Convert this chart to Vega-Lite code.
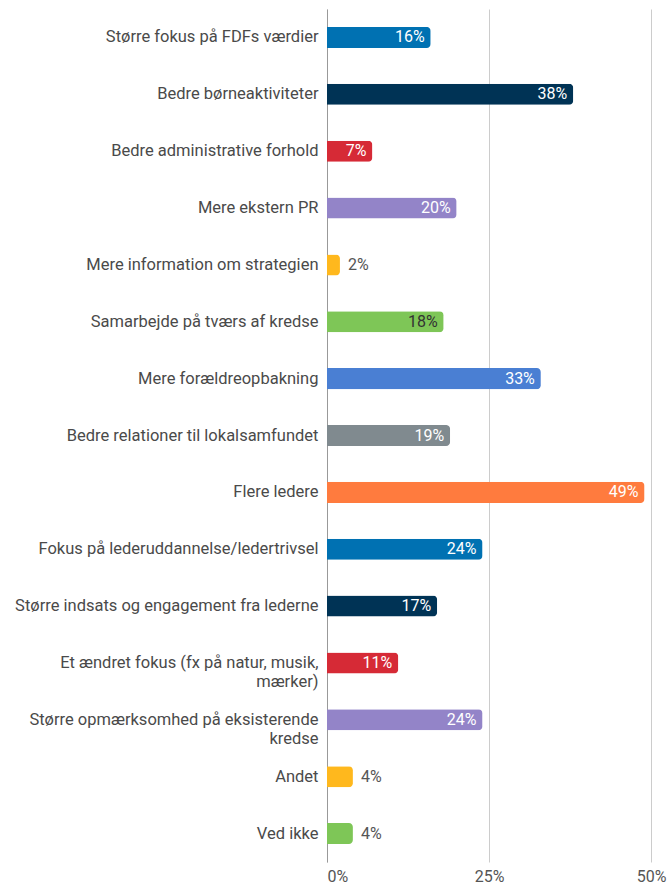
{
  "$schema": "https://vega.github.io/schema/vega-lite/v6.json",
  "autosize": {"type": "none"},
  "padding": {"left": 327, "top": 9, "right": 19, "bottom": 25},
  "width": 324,
  "height": 853,
  "background": "white",
  "config": {
    "font": "Roboto",
    "view": {"stroke": null}
  },
  "data": {
    "values": [
      {"label": "Større fokus på FDFs værdier", "value": 0.16},
      {"label": "Bedre børneaktiviteter", "value": 0.38},
      {"label": "Bedre administrative forhold", "value": 0.07},
      {"label": "Mere ekstern PR", "value": 0.20},
      {"label": "Mere information om strategien", "value": 0.02},
      {"label": "Samarbejde på tværs af kredse", "value": 0.18},
      {"label": "Mere forældreopbakning", "value": 0.33},
      {"label": "Bedre relationer til lokalsamfundet", "value": 0.19},
      {"label": "Flere ledere", "value": 0.49},
      {"label": "Fokus på lederuddannelse/ledertrivsel", "value": 0.24},
      {"label": "Større indsats og engagement fra lederne", "value": 0.17},
      {"label": "Et ændret fokus (fx på natur, musik,|mærker)", "value": 0.11},
      {"label": "Større opmærksomhed på eksisterende|kredse", "value": 0.24},
      {"label": "Andet", "value": 0.04},
      {"label": "Ved ikke", "value": 0.04}
    ]
  },
  "encoding": {
    "y": {
      "field": "label",
      "type": "nominal",
      "sort": null,
      "scale": {"paddingInner": 0.63, "paddingOuter": 0.315},
      "axis": {
        "title": null,
        "labelExpr": "split(datum.label, '|')",
        "labelFont": "Roboto",
        "labelFontSize": 16.5,
        "labelColor": "#4a4a4a",
        "labelPadding": 9,
        "labelLimit": 330,
        "labelLineHeight": 19,
        "ticks": false,
        "domain": true,
        "domainColor": "#999999",
        "domainWidth": 1
      }
    },
    "x": {
      "field": "value",
      "type": "quantitative",
      "scale": {"domain": [0, 0.5]},
      "axis": {
        "title": null,
        "values": [0, 0.25, 0.5],
        "format": ".0%",
        "labelFont": "Roboto",
        "labelFontSize": 16,
        "labelColor": "#555555",
        "labelPadding": 6,
        "labelFlush": false,
        "labelAlign": {"condition": {"test": "datum.value === 0", "value": "left"}, "value": "center"},
        "ticks": false,
        "domain": false,
        "grid": true,
        "gridColor": "#cccccc",
        "gridWidth": 1
      }
    }
  },
  "layer": [
    {
      "mark": {"type": "bar", "cornerRadiusEnd": 4},
      "encoding": {
        "color": {
          "field": "label",
          "type": "nominal",
          "legend": null,
          "scale": {
            "domain": [
              "Større fokus på FDFs værdier",
              "Bedre børneaktiviteter",
              "Bedre administrative forhold",
              "Mere ekstern PR",
              "Mere information om strategien",
              "Samarbejde på tværs af kredse",
              "Mere forældreopbakning",
              "Bedre relationer til lokalsamfundet",
              "Flere ledere",
              "Fokus på lederuddannelse/ledertrivsel",
              "Større indsats og engagement fra lederne",
              "Et ændret fokus (fx på natur, musik,|mærker)",
              "Større opmærksomhed på eksisterende|kredse",
              "Andet",
              "Ved ikke"
            ],
            "range": [
              "#0071b2", "#003355", "#d62a36", "#9384c8", "#ffb81d", "#7ec657",
              "#4a7fd3", "#808a8f", "#ff7b3e",
              "#0071b2", "#003355", "#d62a36", "#9384c8", "#ffb81d", "#7ec657"
            ]
          }
        }
      }
    },
    {
      "transform": [{"filter": "datum.value >= 0.05"}],
      "mark": {"type": "text", "align": "right", "dx": -6, "fontSize": 16, "font": "Roboto"},
      "encoding": {
        "text": {"field": "value", "type": "quantitative", "format": ".0%"},
        "color": {
          "condition": {"test": "datum.label === 'Samarbejde på tværs af kredse'", "value": "#333333"},
          "value": "#ffffff"
        }
      }
    },
    {
      "transform": [{"filter": "datum.value < 0.05"}],
      "mark": {"type": "text", "align": "left", "dx": 8, "fontSize": 16, "font": "Roboto", "color": "#555555"},
      "encoding": {
        "text": {"field": "value", "type": "quantitative", "format": ".0%"}
      }
    }
  ]
}
